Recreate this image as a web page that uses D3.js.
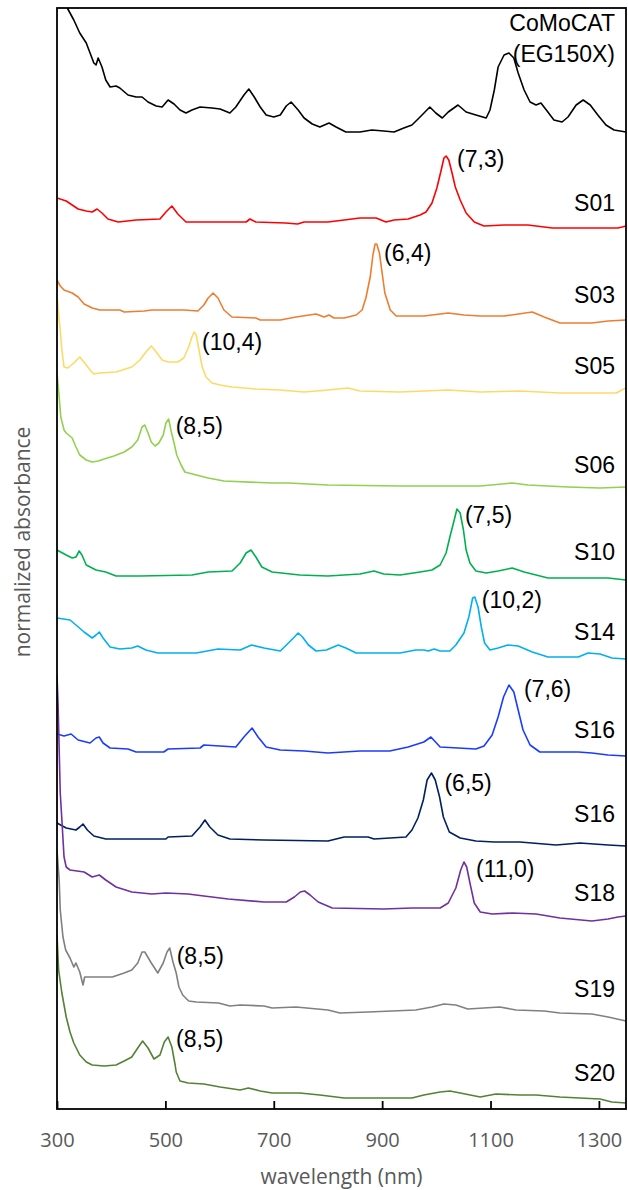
<!DOCTYPE html>
<html>
<head>
<meta charset="utf-8">
<script src="https://cdn.jsdelivr.net/npm/d3@7"></script>
<style>
  html, body { margin: 0; padding: 0; background: #fff; }
  svg { display: block; }
</style>
</head>
<body>
<svg id="chart" width="628" height="1190"></svg>
<script>
// Absorbance spectra, [wavelength (nm), normalized absorbance + stacking offset]
const comocat = [[300,113],[310,111],[320,109.6],[331,108.5],[342,107.2],[354,106.2],[361,105.2],[368,104.2],[372,104.0],[376,104.7],[383,103.8],[390,102.5],[398,101.8],[409,101.9],[416,101.7],[431,101.0],[446,100.8],[457,100.8],[468,100.3],[483,99.9],[494,99.8],[505,100.5],[516,100.1],[527,99.5],[538,99.2],[549,99.5],[564,99.8],[586,99.7],[601,99.6],[619,99.2],[630,99.8],[645,101.0],[654,101.6],[664,100.8],[675,99.8],[686,99.0],[700,98.8],[712,99.0],[723,99.9],[732,100.3],[745,99.5],[756,98.7],[771,98.1],[785,97.8],[802,98.2],[815,97.8],[833,97.3],[859,97.3],[881,97.5],[903,97.4],[922,97.3],[940,97.7],[955,98.0],[970,98.8],[988,99.8],[999,99.2],[1011,98.7],[1022,99.3],[1040,100.0],[1055,99.3],[1073,99.0],[1092,98.7],[1099,99.5],[1107,101.5],[1114,103.8],[1125,105.0],[1134,105.2],[1143,104.7],[1151,103.2],[1162,101.5],[1173,100.3],[1184,100.0],[1193,100.2],[1203,99.5],[1217,98.5],[1232,98.3],[1243,98.8],[1258,100.0],[1271,100.5],[1284,100.0],[1298,99.0],[1313,98.0],[1328,97.5],[1350,97.3]];

const s01 = [[300,90.7],[317,90.4],[328,90.0],[339,89.6],[354,89.4],[365,89.3],[374,89.6],[383,89.2],[394,88.6],[413,88.3],[446,88.5],[490,88.6],[501,89.3],[512,89.9],[523,89.1],[538,88.3],[579,88.3],[649,88.3],[656,88.6],[667,88.3],[722,88.2],[744,88.1],[756,88.3],[800,88.3],[830,88.5],[859,88.7],[889,88.7],[907,88.3],[922,88.5],[948,88.6],[970,89.0],[981,89.3],[992,90.2],[1001,91.7],[1009,93.5],[1014,94.7],[1018,94.9],[1023,94.5],[1029,93.2],[1035,91.8],[1044,90.5],[1055,89.2],[1070,88.3],[1088,87.9],[1125,88.0],[1169,88.0],[1214,87.7],[1265,87.7],[1335,87.7],[1343,87.8],[1350,87.9]];

const s03 = [[300,82.5],[306,81.9],[313,81.5],[328,81.2],[339,80.8],[350,80.1],[365,79.7],[379,79.5],[416,79.5],[424,79.3],[461,79.4],[475,79.5],[534,79.5],[560,79.4],[571,80.0],[579,80.7],[588,81.2],[597,80.7],[608,79.5],[623,78.8],[667,78.7],[675,78.5],[712,78.5],[741,78.8],[778,79.1],[793,78.8],[802,79.0],[811,78.7],[830,78.7],[852,79.0],[863,79.5],[870,80.7],[878,82.8],[883,85.0],[887,86.1],[890,86.1],[895,85.2],[900,83.2],[905,81.2],[915,79.5],[926,78.9],[977,78.9],[1022,79.2],[1051,79.0],[1081,78.9],[1125,78.9],[1177,79.3],[1199,78.8],[1228,78.2],[1287,78.2],[1317,78.4],[1350,78.5]];

const s05 = [[300,81.0],[303,79.0],[306,77.5],[309,75.5],[313,73.8],[320,73.7],[331,74.2],[342,74.8],[351,74.2],[361,73.5],[368,73.1],[379,73.2],[409,73.3],[438,73.8],[453,74.5],[464,75.3],[474,75.9],[483,75.3],[494,74.5],[505,74.3],[523,74.3],[534,74.7],[543,75.8],[549,76.8],[553,77.3],[557,77.0],[562,75.5],[568,73.8],[575,72.8],[586,72.2],[601,72.0],[623,71.8],[667,71.6],[712,71.5],[756,71.3],[800,71.5],[837,71.7],[859,71.4],[933,71.3],[1022,71.5],[1081,71.3],[1154,71.4],[1228,71.2],[1302,71.2],[1332,71.2],[1346,71.6],[1350,71.7]];

const s06 = [[300,73.2],[304,70.8],[307,68.8],[313,67.5],[317,67.2],[328,66.7],[335,65.8],[342,65.0],[354,64.5],[365,64.3],[376,64.4],[387,64.6],[405,64.9],[424,65.3],[438,65.8],[449,66.5],[457,67.8],[462,68.0],[468,67.2],[474,66.3],[481,65.9],[488,66.2],[496,67.0],[501,68.2],[506,68.6],[511,67.3],[516,66.2],[521,65.0],[529,64.0],[536,63.3],[557,63.0],[579,62.7],[608,62.4],[697,62.2],[727,62.2],[800,62.0],[933,61.9],[1081,61.9],[1140,62.2],[1169,62.0],[1243,61.8],[1302,61.7],[1350,61.8]];

const s10 = [[300,55.5],[317,55.0],[328,54.7],[335,54.8],[341,55.4],[346,55.0],[354,54.0],[372,53.5],[390,53.3],[409,52.9],[453,52.9],[549,53.0],[579,53.3],[623,53.4],[638,54.2],[649,55.2],[658,55.5],[667,54.8],[678,53.8],[697,53.3],[748,53.0],[800,52.9],[859,53.1],[885,53.4],[903,53.1],[933,53.0],[970,53.3],[992,53.5],[1007,54.0],[1018,55.2],[1025,56.8],[1033,58.5],[1038,59.6],[1044,59.2],[1050,57.5],[1055,55.5],[1062,54.2],[1073,53.4],[1092,53.2],[1114,53.4],[1140,53.7],[1162,53.3],[1184,53.0],[1206,52.7],[1265,52.7],[1317,52.7],[1350,52.5]];

const s14 = [[300,48.7],[324,48.5],[335,48.0],[350,47.3],[365,46.7],[372,47.0],[378,47.3],[385,46.7],[398,45.8],[416,45.6],[438,45.7],[449,45.9],[464,45.5],[486,45.2],[557,45.2],[597,45.6],[638,45.5],[659,46.0],[682,45.7],[712,45.4],[727,46.2],[738,46.8],[745,47.2],[753,46.8],[764,46.0],[778,45.4],[797,45.5],[819,46.0],[833,45.7],[852,45.2],[933,45.2],[962,45.5],[977,45.5],[985,45.4],[996,45.6],[1007,45.4],[1025,45.4],[1036,46.0],[1051,47.2],[1060,48.8],[1067,50.7],[1071,50.8],[1077,49.8],[1083,47.8],[1089,46.2],[1099,45.5],[1114,45.7],[1132,46.0],[1151,45.9],[1177,45.3],[1206,44.8],[1262,44.8],[1280,45.2],[1302,45.1],[1324,44.7],[1350,44.6]];

const s16a = [[300,37.1],[313,36.9],[326,37.1],[339,36.5],[361,36.2],[372,36.7],[378,36.8],[385,36.2],[398,35.7],[431,35.6],[446,35.3],[497,35.3],[505,35.6],[564,35.7],[571,36.0],[630,35.8],[645,36.8],[660,37.7],[671,36.8],[686,35.8],[712,35.5],[756,35.4],[800,35.2],[859,35.4],[914,35.4],[948,35.8],[977,36.3],[990,36.8],[1007,35.8],[1073,35.6],[1088,35.9],[1103,37.0],[1114,38.8],[1124,40.8],[1134,42.0],[1143,41.3],[1151,39.5],[1160,37.5],[1173,36.0],[1191,35.3],[1262,35.3],[1287,35.2],[1317,35.0],[1350,34.9]];

const s16b = [[300,28.2],[317,27.7],[335,27.5],[342,27.8],[348,28.1],[356,27.5],[368,26.9],[390,26.6],[501,26.6],[505,26.8],[549,26.9],[564,27.8],[573,28.5],[582,27.8],[597,27.0],[619,26.6],[682,26.5],[800,26.4],[830,26.8],[874,26.8],[885,26.6],[944,26.8],[955,27.5],[966,28.7],[976,30.5],[983,32.5],[991,33.2],[998,32.5],[1006,30.8],[1013,28.8],[1024,27.3],[1044,26.7],[1073,26.4],[1107,26.3],[1154,26.3],[1221,26.0],[1265,26.2],[1317,26.0],[1350,25.9]];

const s18 = [[300,43.0],[302,40.0],[306,31.2],[309,28.5],[313,24.8],[317,23.8],[324,23.5],[350,23.3],[365,22.8],[378,23.0],[390,22.5],[409,21.8],[438,21.3],[475,21.1],[501,21.2],[542,21.1],[571,20.9],[616,20.6],[682,20.3],[723,20.3],[738,20.8],[749,21.3],[757,21.4],[767,21.0],[782,20.3],[808,19.7],[903,19.6],[955,19.7],[1007,19.7],[1022,20.2],[1036,21.7],[1045,23.5],[1051,24.3],[1056,23.8],[1062,22.2],[1070,20.2],[1081,19.3],[1103,19.1],[1140,19.2],[1184,19.1],[1228,18.7],[1287,18.4],[1317,18.6],[1335,18.8],[1350,18.9]];

const s19 = [[300,25.5],[304,22.5],[306,19.5],[311,16.8],[316,15.5],[324,14.7],[331,13.8],[335,14.2],[342,13.3],[348,12.0],[351,12.8],[365,12.8],[402,12.8],[424,13.2],[438,13.5],[449,14.2],[457,15.3],[462,15.3],[474,14.2],[486,13.2],[496,14.2],[503,15.3],[508,15.7],[514,14.3],[520,13.2],[525,11.8],[532,11.0],[543,10.4],[557,10.3],[598,10.2],[619,9.9],[638,10.0],[682,9.9],[697,9.7],[741,9.8],[800,9.5],[822,9.2],[874,9.3],[962,9.5],[992,9.8],[1014,10.1],[1036,10.0],[1058,9.6],[1117,9.8],[1147,9.5],[1199,9.4],[1228,9.2],[1287,9.1],[1317,8.8],[1350,8.4]];

const s20 = [[300,17.0],[303,13.5],[309,11.2],[317,8.8],[324,7.3],[331,6.2],[342,5.0],[354,4.3],[365,4.0],[387,3.9],[409,4.0],[424,4.4],[438,4.8],[449,5.7],[458,6.4],[468,5.7],[479,4.6],[490,5.0],[498,6.3],[505,6.8],[512,5.8],[518,4.0],[520,3.3],[527,2.4],[542,2.2],[571,2.1],[601,1.8],[638,1.5],[653,1.7],[675,1.4],[697,1.2],[748,1.2],[785,1.0],[830,0.7],[874,0.7],[955,0.7],[977,1.0],[1007,1.3],[1025,1.4],[1044,1.2],[1081,0.8],[1110,1.1],[1154,1.0],[1184,1.0],[1228,0.8],[1265,0.7],[1302,0.6],[1324,0.3],[1350,0.2]];

const spectra = [comocat, s01, s03, s05, s06, s10, s14, s16a, s16b, s18, s19, s20];
const sampleNames = [["CoMoCAT", "(EG150X)"], ["S01"], ["S03"], ["S05"], ["S06"], ["S10"], ["S14"], ["S16"], ["S16"], ["S18"], ["S19"], ["S20"]];
const sampleColors = ["#000000", "#ff0000", "#ed7d31", "#ffd966", "#92d050", "#00b050", "#00b0f0", "#1a3cff", "#002060", "#7030a0", "#808080", "#548235"];

// Chirality of the dominant peak of each sorted fraction
const peakTags = ["(7,3)", "(6,4)", "(10,4)", "(8,5)", "(7,5)", "(10,2)", "(7,6)", "(6,5)", "(11,0)", "(8,5)", "(8,5)"];
const peakSeries = [1, 2, 3, 4, 5, 6, 7, 8, 9, 10, 11];
const peakWavelengths = [1018, 888, 553, 506, 1038, 1071, 1134, 991, 1051, 508, 505];

const xTicks = [300, 500, 700, 900, 1100, 1300];

// ---- layout ----
const plot = { left: 57, right: 626, top: 8, bottom: 1109 };
const svg = d3.select("#chart");

const x = d3.scaleLinear().domain([300, 1350]).range([plot.left, plot.right]);
const y = d3.scaleLinear().domain([-0.4, 109.7]).range([plot.bottom, plot.top]);

svg.append("defs").append("clipPath").attr("id", "plot-clip")
  .append("rect")
  .attr("x", plot.left).attr("y", plot.top)
  .attr("width", plot.right - plot.left).attr("height", plot.bottom - plot.top);

const line = d3.line().x(d => x(d[0])).y(d => y(d[1]));

const lines = svg.append("g").attr("clip-path", "url(#plot-clip)");
spectra.forEach((s, i) => {
  lines.append("path")
    .datum(s)
    .attr("d", line)
    .attr("fill", "none")
    .attr("stroke", sampleColors[i])
    .attr("stroke-width", 1.6)
    .attr("stroke-linejoin", "round");
});

// frame
svg.append("rect")
  .attr("x", plot.left).attr("y", plot.top)
  .attr("width", plot.right - plot.left).attr("height", plot.bottom - plot.top)
  .attr("fill", "none").attr("stroke", "#000").attr("stroke-width", 1.8);

// bottom axis with inward ticks
const xAxis = d3.axisBottom(x)
  .tickValues(xTicks)
  .tickFormat(d3.format("d"))
  .tickSizeInner(-8).tickSizeOuter(0).tickPadding(24);
const gx = svg.append("g").attr("transform", `translate(0,${plot.bottom})`).call(xAxis);
gx.select(".domain").remove();
gx.selectAll(".tick line").attr("stroke", "#000").attr("stroke-width", 1.8);
gx.selectAll(".tick text")
  .attr("fill", "#595959")
  .style("font-family", "'Open Sans', sans-serif")
  .style("font-size", "20px");

// axis titles
svg.append("text")
  .attr("x", (plot.left + plot.right) / 2).attr("y", 1184)
  .attr("text-anchor", "middle")
  .attr("fill", "#595959")
  .style("font-family", "'Open Sans', sans-serif")
  .style("font-size", "21px")
  .text("wavelength (nm)");

svg.append("text")
  .attr("transform", "translate(30,542) rotate(-90)")
  .attr("text-anchor", "middle")
  .attr("fill", "#595959")
  .style("font-family", "'Open Sans', sans-serif")
  .style("font-size", "21px")
  .text("normalized absorbance");

// sample names, right-aligned above the tail of each spectrum
const nameLift = [-101, -15, -17, -14, -14, -20, -19, -18, -24, -15, -24, -22];
const labelFont = "'Liberation Sans', Arial, sans-serif";
spectra.forEach((s, i) => {
  const end = s[s.length - 1];
  const baseY = y(end[1]) + nameLift[i];
  const t = svg.append("text")
    .attr("text-anchor", "end")
    .attr("fill", "#000")
    .style("font-family", labelFont)
    .style("font-size", "23px");
  sampleNames[i].forEach((ln, k) => {
    t.append("tspan").attr("x", 615).attr("y", baseY + k * 31).text(ln);
  });
});

// chirality tags next to each peak
const tagDx = [11, 9, 8, 7, 8, 7, 15, 13, 12, 7, 8];
const tagDy = [11, 17, 18, 15, 14, 11, 12, 18, 15, 16, 10];
peakTags.forEach((tag, j) => {
  const s = spectra[peakSeries[j]];
  const pk = s.reduce((a, b) => Math.abs(b[0] - peakWavelengths[j]) < Math.abs(a[0] - peakWavelengths[j]) ? b : a);
  svg.append("text")
    .attr("x", x(pk[0]) + tagDx[j])
    .attr("y", y(pk[1]) + tagDy[j])
    .attr("fill", "#000")
    .style("font-family", labelFont)
    .style("font-size", "23px")
    .text(tag);
});
</script>
</body>
</html>
